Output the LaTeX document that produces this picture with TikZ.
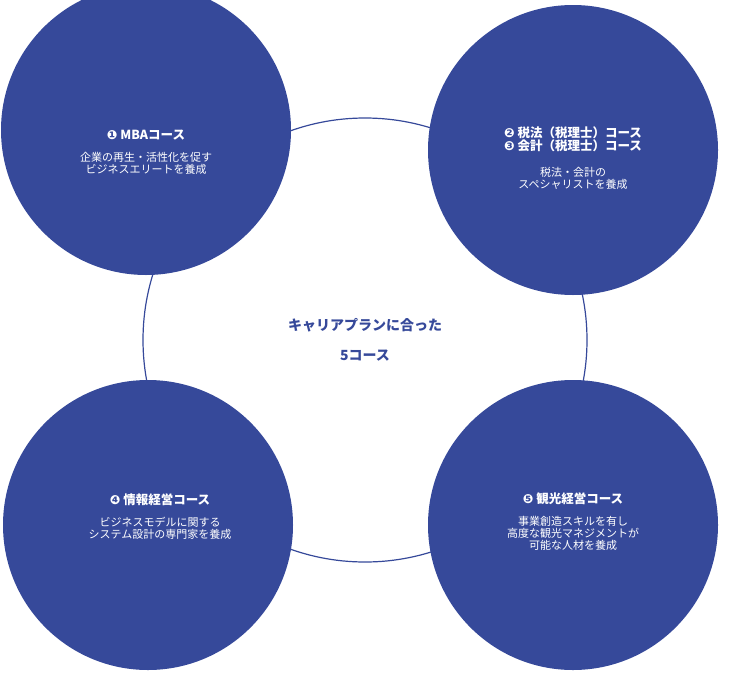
\documentclass[tikz,border=0pt]{standalone}
\usepackage{fontspec}
\setmainfont{Noto Sans CJK JP}
\newfontfamily\djfont{DejaVu Sans}
\definecolor{cb}{HTML}{36499A}
\newcommand\ttlf{\bfseries\fontsize{12.5}{22}\selectfont}
\newcommand\bodyf{\fontsize{11}{20}\selectfont}
\begin{document}
\begin{tikzpicture}[x=1pt,y=-1pt,
  bub/.style={circle,fill=cb,minimum size=290pt,inner sep=0pt},
  txt/.style={text=white,align=center}]
\useasboundingbox (0,0) rectangle (730,680);
\node[circle,draw=cb,line width=1.2pt,minimum size=444pt] (c) at (365,340) {};
\node[text=cb,align=center,font=\bfseries\fontsize{14}{30}\selectfont] (ct) at (365,340) {キャリアプランに合った\\5コース};
\node[bub] (a) at (146,130) {};
\node[bub] (b) at (573,150) {};
\node[bub] (d) at (148,525) {};
\node[bub] (e) at (573,525) {};
\node[txt] (at) at (146,152) {{\ttlf{\djfont ❶} MBAコース}\\[10pt]\bodyf 企業の再生・活性化を促す\\\bodyf ビジネスエリートを養成};
\node[txt] (bt) at (573,158) {{\ttlf{\djfont ❷} 税法（税理士）コース}\\{\ttlf{\djfont ❸} 会計（税理士）コース}\\[14pt]\bodyf 税法・会計の\\\bodyf スペシャリストを養成};
\node[txt] (dt) at (160,517) {{\ttlf{\djfont ❹} 情報経営コース}\\[10pt]\bodyf ビジネスモデルに関する\\\bodyf システム設計の専門家を養成};
\node[txt] (et) at (573,522) {{\ttlf{\djfont ❺} 観光経営コース}\\[10pt]\bodyf 事業創造スキルを有し\\\bodyf 高度な観光マネジメントが\\\bodyf 可能な人材を養成};
\end{tikzpicture}
\end{document}
